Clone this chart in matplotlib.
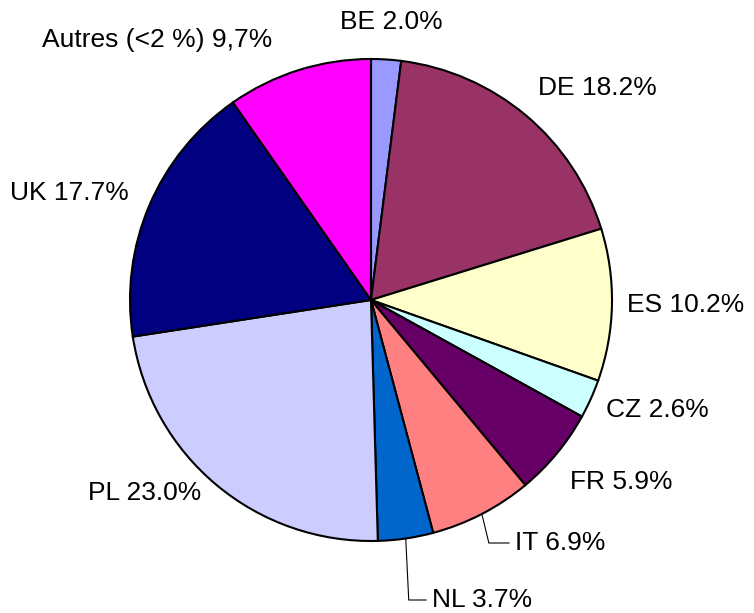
import numpy as np
import matplotlib.pyplot as plt

plt.rcParams['font.family'] = ['Liberation Sans', 'DejaVu Sans']

labels = ["BE 2.0%", "DE 18.2%", "ES 10.2%", "CZ 2.6%", "FR 5.9%",
          "IT 6.9%", "NL 3.7%", "PL 23.0%", "UK 17.7%", "Autres (<2 %) 9,7%"]
shares = [2.0, 18.2, 10.2, 2.6, 5.9, 6.9, 3.7, 23.0, 17.7, 9.7]
colors = ["#9999FF", "#993366", "#FFFFCC", "#CCFFFF", "#660066",
          "#FF8080", "#0066CC", "#CCCCFF", "#000080", "#FF00FF"]

W, H = 754, 613
CX, CY, R = 371, 300, 241


def px(x, y):
    # pixel position in the picture -> data units (pie radius = 1)
    return (x - CX) / R, (CY - y) / R


# label anchor (left edge, vertical centre) in picture pixels
label_pos = [(340, 22), (538, 88), (627, 305), (606, 410), (570, 482),
             (515, 543), (432, 600), (88, 493), (10, 193), (42, 40)]
leader = {"IT 6.9%", "NL 3.7%"}

fig = plt.figure(figsize=(W / 100, H / 100), dpi=100)
ax = fig.add_axes([0, 0, 1, 1])

wedges, _ = ax.pie(shares, colors=colors, startangle=90, counterclock=False,
                   radius=1, center=(0, 0),
                   wedgeprops=dict(edgecolor='black', linewidth=1.5))

ax.set_xlim(-CX / R, (W - CX) / R)
ax.set_ylim((CY - H) / R, CY / R)
ax.set_aspect('equal')
ax.axis('off')

for w, lab, (lx, ly) in zip(wedges, labels, label_pos):
    tx, ty = px(lx, ly)
    ax.text(tx, ty, lab, fontsize=19, ha='left', va='center')
    if lab in leader:
        mid = np.deg2rad((w.theta1 + w.theta2) / 2)
        sx, sy = np.cos(mid), np.sin(mid)
        kx = sx + (3 if lab == "NL 3.7%" else 7) / R
        ex = tx - 6 / R
        ax.plot([sx, kx, ex], [sy, ty, ty], color='black', lw=0.8)

fig.savefig("out.png", dpi=100)
